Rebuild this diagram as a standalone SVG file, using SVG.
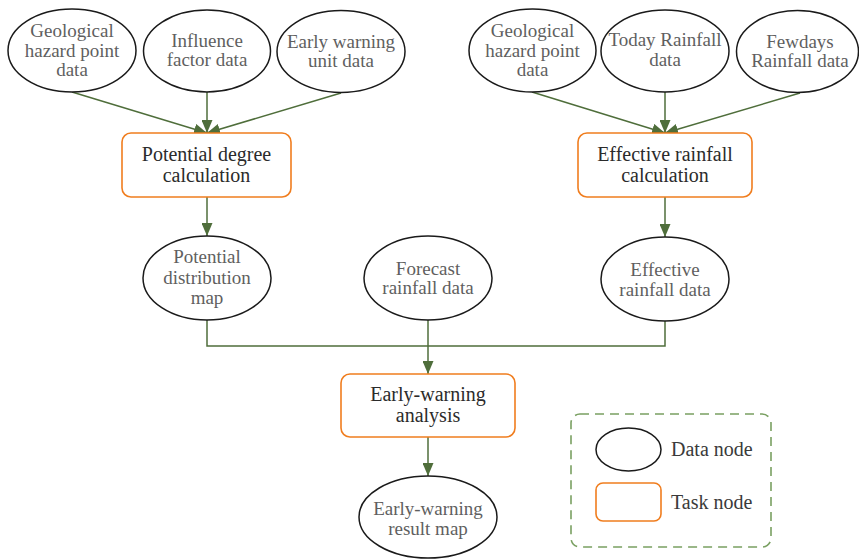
<svg xmlns="http://www.w3.org/2000/svg" width="859" height="559" viewBox="0 0 859 559">
  <style>
    .data ellipse { fill: #ffffff; stroke: #1a1a1a; stroke-width: 1.5; }
    .data text { font-family: "Liberation Serif", "Times New Roman", serif; font-size: 19px; fill: #5f5f5f; text-anchor: middle; }
    .task rect { fill: #ffffff; stroke: #f07d1e; stroke-width: 1.6; }
    .task text { font-family: "Liberation Serif", "Times New Roman", serif; font-size: 20px; fill: #2b2b2b; text-anchor: middle; }
    .edge { fill: none; stroke: #4f6e3b; stroke-width: 1.5; }
    .legend-frame { fill: none; stroke: #7aa062; stroke-width: 1.6; stroke-dasharray: 9 6; }
    .legend-label { font-family: "Liberation Serif", "Times New Roman", serif; font-size: 20px; fill: #3a3a3a; }
  </style>
  <defs>
    <marker id="arrow" viewBox="0 0 13 11" refX="13" refY="5.5" markerWidth="13" markerHeight="11" markerUnits="userSpaceOnUse" orient="auto">
      <path d="M0,0 L13,5.5 L0,11 z" fill="#4f6e3b"/>
    </marker>
  </defs>

  <rect width="859" height="559" fill="#ffffff"/>

  <!-- connectors -->
  <g id="connectors">
    <line class="edge" x1="72" y1="92" x2="207" y2="133" marker-end="url(#arrow)"/>
    <line class="edge" x1="207" y1="92" x2="207" y2="133" marker-end="url(#arrow)"/>
    <line class="edge" x1="341" y1="93" x2="207" y2="133" marker-end="url(#arrow)"/>

    <line class="edge" x1="532" y1="92" x2="665" y2="133" marker-end="url(#arrow)"/>
    <line class="edge" x1="665" y1="92" x2="665" y2="133" marker-end="url(#arrow)"/>
    <line class="edge" x1="800" y1="93" x2="665" y2="133" marker-end="url(#arrow)"/>

    <line class="edge" x1="207" y1="197" x2="207" y2="236" marker-end="url(#arrow)"/>
    <line class="edge" x1="665" y1="197" x2="665" y2="237" marker-end="url(#arrow)"/>

    <polyline class="edge" points="207,320 207,346 665,346 665,321"/>
    <line class="edge" x1="428" y1="320" x2="428" y2="374" marker-end="url(#arrow)"/>

    <line class="edge" x1="428" y1="437" x2="428" y2="476" marker-end="url(#arrow)"/>
  </g>

  <!-- potential branch inputs -->
  <g id="geo-hazard-left" class="data">
    <ellipse cx="72" cy="50.5" rx="64" ry="41.5"/>
    <text x="72" y="37">Geological</text>
    <text x="72" y="57">hazard point</text>
    <text x="72" y="76">data</text>
  </g>
  <g id="influence-factor" class="data">
    <ellipse cx="207" cy="51" rx="63.5" ry="41"/>
    <text x="207" y="47">Influence</text>
    <text x="207" y="66">factor data</text>
  </g>
  <g id="warning-unit" class="data">
    <ellipse cx="341" cy="51.5" rx="64" ry="41"/>
    <text x="341" y="48">Early warning</text>
    <text x="341" y="67">unit data</text>
  </g>

  <!-- rainfall branch inputs -->
  <g id="geo-hazard-right" class="data">
    <ellipse cx="532.5" cy="50.5" rx="63.5" ry="41.5"/>
    <text x="532.5" y="37">Geological</text>
    <text x="532.5" y="57">hazard point</text>
    <text x="532.5" y="76">data</text>
  </g>
  <g id="today-rainfall" class="data">
    <ellipse cx="665" cy="51" rx="64" ry="41"/>
    <text x="665" y="46">Today Rainfall</text>
    <text x="665" y="66">data</text>
  </g>
  <g id="fewdays-rainfall" class="data">
    <ellipse cx="797.5" cy="51.5" rx="61" ry="41"/>
    <text x="800" y="48">Fewdays</text>
    <text x="800" y="67">Rainfall data</text>
  </g>

  <!-- calculation tasks -->
  <g id="potential-calc" class="task">
    <rect x="122" y="133" width="169" height="64" rx="9"/>
    <text x="206.5" y="161">Potential degree</text>
    <text x="206.5" y="182">calculation</text>
  </g>
  <g id="rainfall-calc" class="task">
    <rect x="578" y="133" width="174" height="64" rx="9"/>
    <text x="665" y="161">Effective rainfall</text>
    <text x="665" y="182">calculation</text>
  </g>

  <!-- intermediate data -->
  <g id="potential-map" class="data">
    <ellipse cx="207" cy="278" rx="64" ry="42"/>
    <text x="207" y="263">Potential</text>
    <text x="207" y="284">distribution</text>
    <text x="207" y="304">map</text>
  </g>
  <g id="forecast-rainfall" class="data">
    <ellipse cx="428" cy="278" rx="64" ry="42"/>
    <text x="428" y="275">Forecast</text>
    <text x="428" y="294">rainfall data</text>
  </g>
  <g id="effective-rainfall" class="data">
    <ellipse cx="665" cy="279" rx="64" ry="42"/>
    <text x="665" y="276">Effective</text>
    <text x="665" y="296">rainfall data</text>
  </g>

  <!-- analysis and result -->
  <g id="warning-analysis" class="task">
    <rect x="341" y="374" width="174" height="63" rx="9"/>
    <text x="428" y="401">Early-warning</text>
    <text x="428" y="422">analysis</text>
  </g>
  <g id="warning-result" class="data">
    <ellipse cx="428" cy="517" rx="69" ry="41"/>
    <text x="428" y="515">Early-warning</text>
    <text x="428" y="535">result map</text>
  </g>

  <!-- legend -->
  <g id="legend">
    <rect class="legend-frame" x="571" y="414" width="200" height="133" rx="9"/>
    <g class="data">
      <ellipse cx="628.5" cy="449.5" rx="32.5" ry="21.5"/>
    </g>
    <text class="legend-label" x="671" y="456">Data node</text>
    <g class="task">
      <rect x="596" y="483" width="65" height="38" rx="7"/>
    </g>
    <text class="legend-label" x="671" y="509">Task node</text>
  </g>
</svg>
